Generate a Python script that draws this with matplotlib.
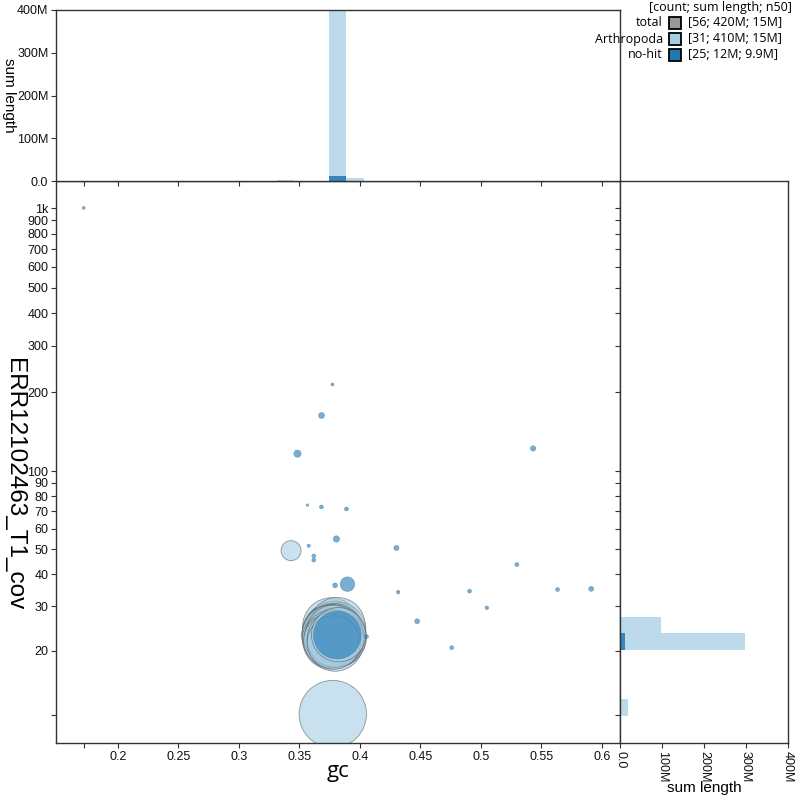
import numpy as np
import matplotlib

matplotlib.use("Agg")
import matplotlib.pyplot as plt
from matplotlib.patches import Rectangle

LIGHT = "#a6cee3"
DARK = "#1f78b4"
TICK_FONT = ["Liberation Sans", "DejaVu Sans"]
LEGEND_FONT = ["Open Sans", "DejaVu Sans"]

# Arthropoda contigs: gc, coverage, length (Mb)
arth_gc = [0.3432, 0.3777,
           0.3765, 0.3800, 0.3780, 0.3830, 0.3760, 0.3815, 0.3790,
           0.3770, 0.3785, 0.3800, 0.3755, 0.3820, 0.3775, 0.3840, 0.3760,
           0.3795, 0.3810, 0.3765, 0.3805, 0.3780, 0.3750, 0.3830, 0.3790,
           0.3772, 0.3815, 0.3760, 0.3798, 0.3785, 0.3825]
arth_cov = [49.4, 11.1,
            25.0, 24.6, 24.0, 24.3, 23.8, 25.3, 23.7,
            23.2, 22.8, 22.5, 22.9, 23.0, 22.2, 22.6, 21.8,
            21.5, 22.0, 23.3, 23.1, 21.9, 22.4, 22.1, 23.4,
            22.6, 22.7, 22.0, 22.3, 21.6, 23.2]
arth_len = [1.76, 20.0,
            14.5, 13.0, 15.0, 12.5, 14.0, 13.5, 14.5,
            16.0, 13.0, 12.5, 14.0, 13.5, 12.0, 12.0, 13.5,
            14.0, 12.5, 15.0, 13.0, 12.0, 13.0, 12.0, 14.5,
            13.5, 12.5, 13.0, 14.0, 12.5, 13.0]

# no-hit contigs: gc, coverage, length (Mb)
nohit_gc = [0.1719, 0.3774, 0.3684, 0.3485, 0.3568, 0.3683, 0.3890, 0.3807,
            0.3578, 0.3620, 0.3620, 0.4303, 0.3898, 0.3796, 0.4317, 0.4474,
            0.4055, 0.5432, 0.5298, 0.4907, 0.5050, 0.5634, 0.5912, 0.4760,
            0.3814]
nohit_cov = [1003, 214, 163, 116.5, 74, 72.8, 71.5, 54.8,
             51.6, 47.1, 45.4, 50.6, 36.6, 36.2, 34.1, 26.2,
             22.8, 122, 43.6, 34.4, 29.6, 34.9, 35.1, 20.6,
             23.1]
nohit_len = [0.04, 0.04, 0.16, 0.24, 0.03, 0.07, 0.07, 0.18,
             0.05, 0.07, 0.07, 0.12, 0.94, 0.11, 0.06, 0.11,
             0.07, 0.13, 0.07, 0.07, 0.06, 0.07, 0.11, 0.07,
             10.0]

# gc histogram (top), sum length in Mb
gc_bin_lo = [0.3314, 0.3746, 0.3890]
gc_bin_hi = [0.3458, 0.3890, 0.4034]
gc_arth = [1.76, 404, 7]
gc_nohit = [0.0, 12, 0.0]

# coverage histogram (right), sum length in Mb
cov_bin_lo = [10.9, 20.2, 23.5, 36.9, 49.7]
cov_bin_hi = [12.8, 23.5, 27.2, 42.9, 57.7]
cov_arth = [20, 298, 97, 0, 1.76]
cov_nohit = [0, 11, 0, 1.0, 0.4]

x_ticks = [0.172, 0.2, 0.25, 0.3, 0.35, 0.4, 0.45, 0.5, 0.55, 0.6]
x_labels = ["", "0.2", "0.25", "0.3", "0.35", "0.4", "0.45", "0.5", "0.55", "0.6"]
y_ticks = [11, 20, 30, 40, 50, 60, 70, 80, 90, 100, 200, 300, 400, 500, 600, 700, 800, 900, 1000]
y_labels = ["", "20", "30", "40", "50", "60", "70", "80", "90", "100",
            "200", "300", "400", "500", "600", "700", "800", "900", "1k"]
len_ticks = [0, 100, 200, 300, 400]
len_labels = ["0.0", "100M", "200M", "300M", "400M"]

legend_names = ["total", "Arthropoda", "no-hit"]
legend_colors = ["#999999", LIGHT, DARK]
legend_stats = ["[56; 420M; 15M]", "[31; 410M; 15M]", "[25; 12M; 9.9M]"]


def fwd(y):
    return np.log10(np.clip(y, 1e-9, None) + 1)


def inv(v):
    return 10 ** v - 1


def sizes(lengths):
    # radius in px ~ sqrt(length), 1 px = 0.72 pt at dpi 100
    r_pt = 7.536 * np.sqrt(np.asarray(lengths)) * 0.72
    return (2 * r_pt) ** 2


fig = plt.figure(figsize=(8, 8), dpi=100)
L, R, B, T = 56 / 800, 620 / 800, 57 / 800, 619 / 800
ax = fig.add_axes([L, B, R - L, T - B])
ax_top = fig.add_axes([L, T, R - L, (800 - 10) / 800 - T])
ax_right = fig.add_axes([R, B, 788 / 800 - R, T - B])

ylim = (8.4, 1269)
xlim = (0.149, 0.615)
TICK_SIZE = 9

# main scatter
ax.set_yscale("function", functions=(fwd, inv))
ax.scatter(arth_gc, arth_cov, s=sizes(arth_len), color=LIGHT, alpha=0.6,
           edgecolors="#555555", linewidths=0.6, zorder=2)
ax.scatter(nohit_gc, nohit_cov, s=sizes(nohit_len), color=DARK, alpha=0.6,
           edgecolors="#1f5f8f", linewidths=0.3, zorder=3)
ax.set_xlim(*xlim)
ax.set_ylim(*ylim)
ax.set_xticks(x_ticks)
ax.set_xticklabels(x_labels, family=TICK_FONT, fontsize=TICK_SIZE)
ax.set_yticks(y_ticks)
ax.set_yticklabels(y_labels, family=TICK_FONT, fontsize=TICK_SIZE)
ax.yaxis.set_minor_locator(matplotlib.ticker.NullLocator())
ax.set_xlabel("gc", family=LEGEND_FONT, fontsize=16, va="center")
ax.xaxis.set_label_coords(0.5, -0.05)
ax.set_ylabel("ERR12102463_T1_cov", family=TICK_FONT, fontsize=17.5, rotation=270,
              va="center", ha="center")
ax.yaxis.set_label_coords(-0.074, 0.46)

# top histogram
ax_top.bar(gc_bin_lo, gc_arth, width=np.subtract(gc_bin_hi, gc_bin_lo), align="edge",
           color=LIGHT, alpha=0.75, linewidth=0)
ax_top.bar(gc_bin_lo, gc_nohit, width=np.subtract(gc_bin_hi, gc_bin_lo), align="edge",
           color=DARK, alpha=0.85, linewidth=0)
ax_top.set_xlim(*xlim)
ax_top.set_ylim(0, 400)
ax_top.set_xticks(x_ticks)
ax_top.set_xticklabels([])
ax_top.set_yticks(len_ticks)
ax_top.set_yticklabels(len_labels, family=TICK_FONT, fontsize=TICK_SIZE)
ax_top.set_ylabel("sum length", family=TICK_FONT, fontsize=11, rotation=270,
                  va="center", ha="center")
ax_top.yaxis.set_label_coords(-0.083, 0.5)

# right histogram
ax_right.set_yscale("function", functions=(fwd, inv))
ax_right.barh(cov_bin_lo, cov_arth, height=np.subtract(cov_bin_hi, cov_bin_lo), align="edge",
              color=LIGHT, alpha=0.75, linewidth=0)
ax_right.barh(cov_bin_lo, cov_nohit, height=np.subtract(cov_bin_hi, cov_bin_lo), align="edge",
              color=DARK, alpha=0.85, linewidth=0)
ax_right.set_ylim(*ylim)
ax_right.set_xlim(0, 400)
ax_right.set_yticks(y_ticks)
ax_right.set_yticklabels([])
ax_right.yaxis.set_minor_locator(matplotlib.ticker.NullLocator())
ax_right.set_xticks(len_ticks)
ax_right.set_xticklabels(len_labels, family=TICK_FONT, fontsize=TICK_SIZE, rotation=270)
ax_right.set_xlabel("sum length", family=TICK_FONT, fontsize=11, va="center")
ax_right.xaxis.set_label_coords(0.5, -0.08)

for a in (ax, ax_top, ax_right):
    a.set_facecolor("white")
    for sp in a.spines.values():
        sp.set_color("#333333")
        sp.set_linewidth(1.0)
    a.tick_params(direction="out", length=3.5, width=0.8, color="#333333",
                  labelcolor="#111111", pad=2)

# legend drawn by hand in figure pixels
fig.text(720 / 800, 1 - 7 / 800, "[count; sum length; n50]", family=LEGEND_FONT,
         fontsize=9, ha="center", va="center")
for i, (name, col, stat) in enumerate(zip(legend_names, legend_colors, legend_stats)):
    yc = 23 + i * 16
    fig.patches.append(Rectangle((669 / 800, 1 - (yc + 6) / 800), 12 / 800, 12 / 800,
                                 transform=fig.transFigure, facecolor=col,
                                 edgecolor="black", linewidth=1.3))
    fig.text(663 / 800, 1 - yc / 800, name, family=LEGEND_FONT, fontsize=9,
             ha="right", va="center")
    fig.text(688 / 800, 1 - yc / 800, stat, family=LEGEND_FONT, fontsize=9,
             ha="left", va="center")

fig.savefig("out.png", dpi=100, facecolor="white")
